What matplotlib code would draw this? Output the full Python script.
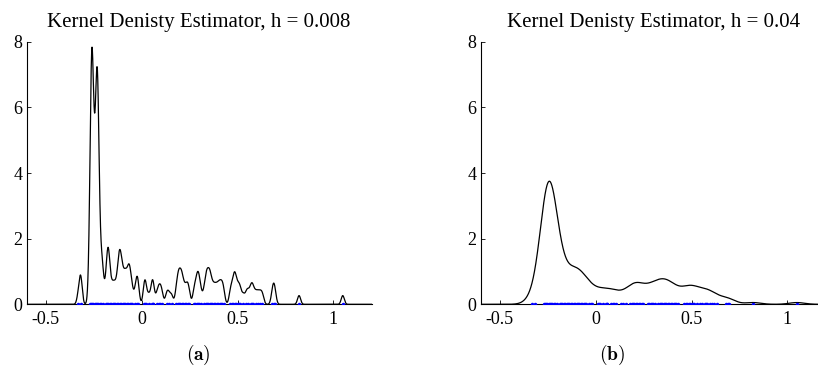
import numpy as np
import matplotlib
matplotlib.use('Agg')
import matplotlib.pyplot as plt

plt.rcParams['font.family'] = ['Liberation Serif', 'DejaVu Serif']
plt.rcParams['mathtext.fontset'] = 'cm'
plt.rcParams['axes.unicode_minus'] = False

muestras = [-0.330, -0.318,
            -0.272, -0.266, -0.260, -0.254, -0.246, -0.238, -0.232, -0.226,
            -0.220,
            -0.210, -0.203, -0.188, -0.181, -0.174, -0.167, -0.160, -0.152,
            -0.145, -0.138, -0.130, -0.122, -0.115, -0.108, -0.100, -0.092,
            -0.085, -0.078, -0.070, -0.063, -0.056, -0.049, -0.034, -0.024,
            -0.018,
            0.013, 0.017, 0.021, 0.037, 0.053, 0.057, 0.061, 0.080, 0.090,
            0.097, 0.106, 0.130, 0.141, 0.156, 0.180,
            0.187, 0.194, 0.201, 0.208, 0.216, 0.224, 0.233, 0.240, 0.247,
            0.272, 0.280, 0.287, 0.294, 0.301, 0.309, 0.325, 0.333, 0.340,
            0.347, 0.354, 0.361, 0.368, 0.376, 0.384, 0.392, 0.400, 0.407,
            0.414, 0.421, 0.428,
            0.462, 0.470, 0.478, 0.485, 0.492, 0.500, 0.508, 0.515, 0.530,
            0.546, 0.556, 0.568, 0.575, 0.582, 0.594, 0.606, 0.618, 0.630,
            0.682, 0.689, 0.695,
            0.821, 1.049]
conteos = [1, 3,
           2, 6, 18, 6, 7, 6, 15, 7,
           2,
           3, 2, 1, 2, 4, 1, 1, 1,
           1, 1, 1, 2, 3, 2, 2, 1,
           2, 1, 2, 2, 1, 1, 1, 2,
           1,
           1, 1, 1, 1, 1, 1, 1, 1, 1,
           1, 1, 1, 1, 1, 1,
           1, 2, 1, 2, 1, 1, 1, 1, 1,
           1, 1, 1, 2, 1, 1, 1, 1, 2,
           1, 2, 1, 1, 1, 1, 1, 1, 1,
           1, 1, 1,
           1, 1, 1, 2, 1, 1, 1, 1, 1,
           1, 1, 1, 1, 1, 1, 1, 1, 1,
           1, 1, 1,
           1, 1]

anchos = [0.008, 0.04]
titulos = ['Kernel Denisty Estimator, h = 0.008', 'Kernel Denisty Estimator, h = 0.04']
etiquetas = [r'$\mathbf{(a)}$', r'$\mathbf{(b)}$']
etiquetas_x = [0.242, 0.748]


def kde(x, datos, pesos, h):
    datos = np.asarray(datos)[:, None]
    pesos = np.asarray(pesos, dtype=float)[:, None]
    k = np.exp(-0.5 * ((x[None, :] - datos) / h) ** 2)
    return (pesos * k).sum(axis=0) / (pesos.sum() * h * np.sqrt(2 * np.pi))


fig = plt.figure(figsize=(8.18, 3.83), dpi=100)

posiciones = [[0.0326, 0.2055, 0.4218, 0.6856],
              [0.5877, 0.2055, 0.4218, 0.6856]]
x = np.linspace(-0.6, 1.2, 3000)

for i in range(2):
    ax = fig.add_axes(posiciones[i])
    y = kde(x, muestras, conteos, anchos[i])
    ax.plot(x, y, color='black', linewidth=0.9)
    # rug con los datos
    ax.plot(muestras, np.zeros(len(muestras)), '.', color='blue',
            markersize=5, markeredgewidth=0, zorder=3)

    ax.set_xlim(-0.6, 1.2)
    ax.set_ylim(0, 8)
    ax.set_xticks([-0.5, 0, 0.5, 1])
    ax.set_xticklabels(['-0.5', '0', '0.5', '1'])
    ax.set_yticks([0, 2, 4, 6, 8])

    # Ejes estilo matlab
    ax.spines['top'].set_visible(False)
    ax.spines['right'].set_visible(False)
    ax.spines['left'].set_linewidth(0.8)
    ax.spines['bottom'].set_linewidth(0.8)
    ax.tick_params(direction='in', length=3, width=0.6, labelsize=13, pad=3)
    ax.tick_params(axis='x', pad=5)

    # Titulo
    ax.set_title(titulos[i], fontsize=15, pad=10.5)

    fig.text(etiquetas_x[i], 0.073, etiquetas[i], fontsize=14,
             ha='center', va='center')

fig.savefig('out.png', dpi=100)
